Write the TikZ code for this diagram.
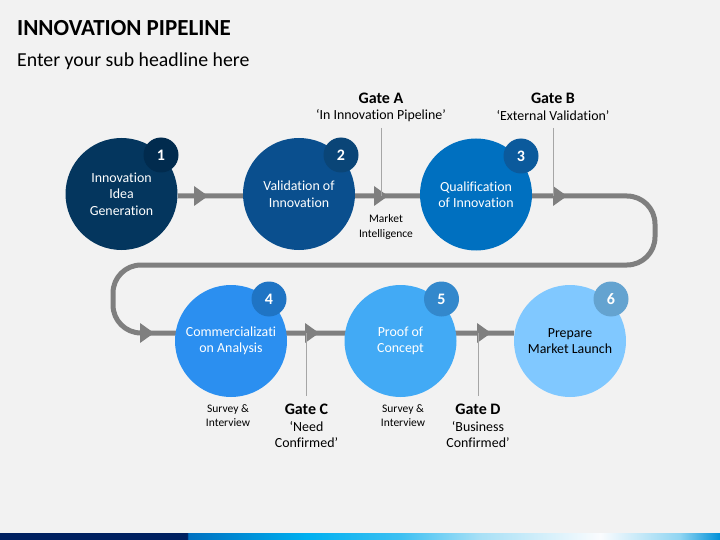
\documentclass[tikz,border=0pt]{standalone}
\usepackage{fontspec}
\setmainfont{Carlito}[Ligatures={NoCommon}]
\usetikzlibrary{calc}
\definecolor{bg}{HTML}{F2F2F2}
\definecolor{pipe}{HTML}{7F7F7F}
\definecolor{gateline}{HTML}{A6A6A6}
\definecolor{cA}{HTML}{04365E}\definecolor{bA}{HTML}{012B4E}
\definecolor{cB}{HTML}{0A4F8E}\definecolor{bB}{HTML}{0A4577}
\definecolor{cC}{HTML}{0070C0}\definecolor{bC}{HTML}{0B5A9C}
\definecolor{cD}{HTML}{2B8FF0}\definecolor{bD}{HTML}{1F74C4}
\definecolor{cE}{HTML}{42AAF5}\definecolor{bE}{HTML}{3388CC}
\definecolor{cF}{HTML}{80C8FF}\definecolor{bF}{HTML}{64A3D0}
\definecolor{navy}{HTML}{002060}
\definecolor{barcyan}{HTML}{00B0F0}
\definecolor{barsky}{HTML}{3DC0F2}
\definecolor{barpale}{HTML}{A8E0F6}
\definecolor{barwhite}{HTML}{FAFCFE}
\definecolor{barlight}{HTML}{90D5F2}
\definecolor{barend}{HTML}{0090D8}
\pgfdeclarehorizontalshading{barshade}{100bp}{
  color(0bp)=(navy);
  color(38bp)=(navy);
  color(38.05bp)=(cC);
  color(46.3bp)=(barcyan);
  color(52.8bp)=(barsky);
  color(58.3bp)=(barpale);
  color(66.7bp)=(barwhite);
  color(72.2bp)=(barlight);
  color(75bp)=(barend);
  color(100bp)=(barend)}
\tikzset{
  stage/.style={circle, minimum size=112pt, inner sep=0pt, align=center,
    font=\fontsize{13.9}{16.5}\selectfont, text=white},
  badge/.style={circle, minimum size=35pt, inner sep=0pt, text=white,
    font=\fontsize{16}{18}\selectfont\bfseries},
  pipeline/.style={line width=5pt, draw=pipe},
  gline/.style={line width=0.8pt, draw=gateline},
  gatetitle/.style={font=\fontsize{16}{18}\selectfont\bfseries, inner sep=0pt},
  gatetext/.style={font=\fontsize{13.9}{16.2}\selectfont, inner sep=0pt, align=center},
  smalltext/.style={font=\fontsize{11.5}{14.4}\selectfont, inner sep=0pt, align=center},
}
\newcommand{\tri}[1]{\fill[pipe] ($(#1)+(-14,-10)$) -- (#1) -- ($(#1)+(-14,10)$) -- cycle;}
\begin{document}
\begin{tikzpicture}[x=1pt,y=-1pt]
\fill[bg] (0,0) rectangle (720,540);
\useasboundingbox (0,0) rectangle (720,540);
% bottom bar
\shade[shading=barshade] (0,533.5) rectangle (720,540);
% title
\node[anchor=base west, inner sep=0pt, font=\fontsize{23}{26}\selectfont\bfseries] (title) at (17,36) {INNOVATION PIPELINE};
\node[anchor=base west, inner sep=0pt, font=\fontsize{19.8}{22}\selectfont] (sub) at (17,67) {Enter your sub headline here};
% pipeline path coordinates
\coordinate (p0) at (178,196);
\coordinate (p1) at (655,196);
\coordinate (p2) at (655,265);
\coordinate (p3) at (113,265);
\coordinate (p4) at (113,333);
\coordinate (p5) at (514,333);
\draw[pipeline, rounded corners=28pt] (p0) -- (p1) -- (p2) -- (p3) -- (p4) -- (p5);
% arrow tips
\coordinate (t1) at (208,196);
\coordinate (t2) at (388,196);
\coordinate (t3) at (567,196);
\coordinate (t4) at (154,333);
\coordinate (t5) at (319,333);
\coordinate (t6) at (491,333);
\tri{t1}\tri{t2}\tri{t3}\tri{t4}\tri{t5}\tri{t6}
% gate lines
\coordinate (gA1) at (381,128); \coordinate (gA2) at (381,196);
\coordinate (gB1) at (553,128); \coordinate (gB2) at (553,196);
\coordinate (gC1) at (306,333); \coordinate (gC2) at (306,396);
\coordinate (gD1) at (478,333); \coordinate (gD2) at (478,396);
\draw[gline] (gA1) -- (gA2);
\draw[gline] (gB1) -- (gB2);
\draw[gline] (gC1) -- (gC2);
\draw[gline] (gD1) -- (gD2);
% stages
\node[stage, fill=cA] (s1) at (121.5,194) {Innovation\\Idea\\Generation};
\node[stage, fill=cB] (s2) at (299,194) {Validation of\\Innovation};
\node[stage, fill=cC] (s3) at (476,194.5) {Qualification\\of Innovation};
\node[stage, fill=cD] (s4) at (231,341) {Commercializati\\on Analysis};
\node[stage, fill=cE] (s5) at (400.5,341) {Proof of\\Concept};
\node[stage, fill=cF, text=black] (s6) at (570,341) {Prepare\\Market Launch};
% badges
\node[badge, fill=bA] (b1) at (161,155) {1};
\node[badge, fill=bB] (b2) at (341,155) {2};
\node[badge, fill=bC] (b3) at (521,156) {3};
\node[badge, fill=bD] (b4) at (269,299) {4};
\node[badge, fill=bE] (b5) at (441.5,299) {5};
\node[badge, fill=bF] (b6) at (611,299) {6};
% gate texts
\node[gatetitle] (gA) at (381,98) {Gate A};
\node[gatetext] (gAt) at (381,116) {‘In Innovation Pipeline’};
\node[gatetitle] (gB) at (553,98) {Gate B};
\node[gatetext] (gBt) at (553,116) {‘External Validation’};
\node[smalltext] (mi) at (386,227) {Market\\Intelligence};
\node[gatetitle] (gC) at (306.5,409) {Gate C};
\node[gatetext] (gCt) at (306.5,434.5) {‘Need\\Confirmed’};
\node[gatetitle] (gD) at (478,409) {Gate D};
\node[gatetext] (gDt) at (478,434.5) {‘Business\\Confirmed’};
\node[smalltext] (sv1) at (228,415.5) {Survey \&\\Interview};
\node[smalltext] (sv2) at (403,415.5) {Survey \&\\Interview};
\end{tikzpicture}
\end{document}
